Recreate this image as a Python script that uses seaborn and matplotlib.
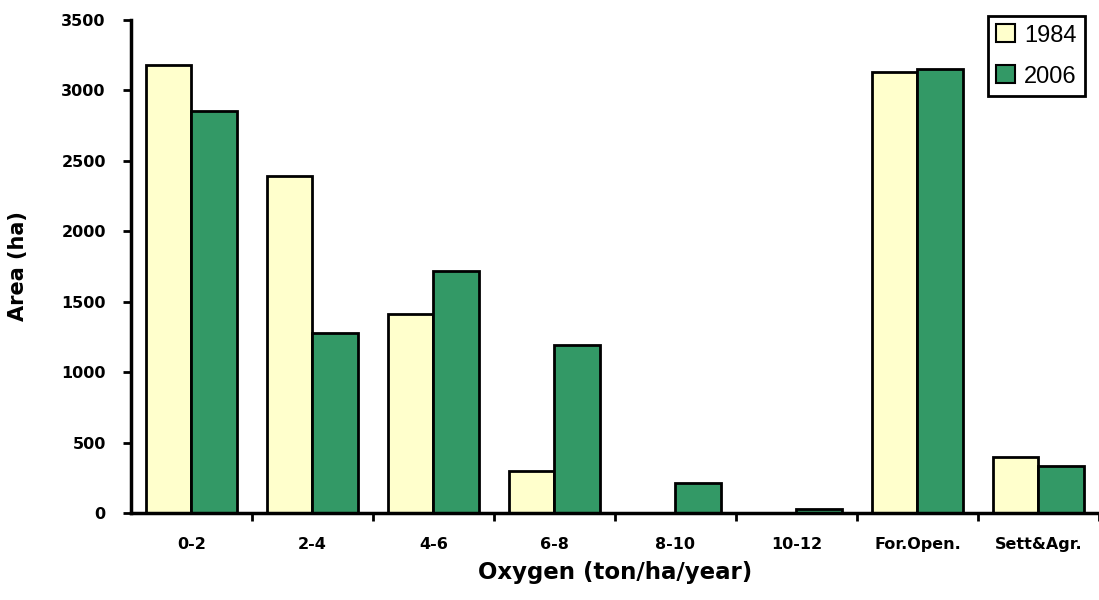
import matplotlib
matplotlib.use("Agg")
import matplotlib.pyplot as plt
import seaborn as sns
import pandas as pd

categories = ["0-2", "2-4", "4-6", "6-8", "8-10", "10-12", "For.Open.", "Sett&Agr."]
years = ["1984", "2006"]
area_1984 = [3180, 2390, 1410, 300, 0, 0, 3130, 400]
area_2006 = [2850, 1280, 1720, 1190, 210, 25, 3150, 335]
y_ticks = [0, 500, 1000, 1500, 2000, 2500, 3000, 3500]

df = pd.DataFrame({
    "category": categories * 2,
    "year": [years[0]] * len(categories) + [years[1]] * len(categories),
    "area": area_1984 + area_2006,
})

sns.set_style("white")
plt.rcParams["font.family"] = ["DejaVu Sans"]
for key in ["text.color", "axes.labelcolor", "xtick.color", "ytick.color"]:
    plt.rcParams[key] = "black"

fig = plt.figure(figsize=(10.99, 6.0), dpi=100)
ax = fig.add_axes([0.119, 0.145, 0.881, 0.822])

palette = {"1984": "#FFFFCC", "2006": "#339966"}
sns.barplot(data=df, x="category", y="area", hue="year", order=categories,
            hue_order=years, palette=palette, width=0.75, saturation=1,
            edgecolor="black", linewidth=2, ax=ax)

ax.set_xlim(-0.5, 7.5)
ax.set_ylim(0, 3500)
ax.set_yticks(y_ticks)
ax.set_yticklabels([str(t) for t in y_ticks], fontweight="bold", fontsize=11.5)

# category labels centred, tick marks between categories
ax.set_xticks(range(len(categories)))
ax.set_xticklabels(categories, fontweight="bold", fontsize=11.5)
ax.set_xticks([i + 0.5 for i in range(len(categories))], minor=True)
ax.tick_params(axis="x", which="both", bottom=True)
ax.tick_params(axis="x", which="major", length=0, pad=17)
ax.tick_params(axis="x", which="minor", length=6, width=2, direction="out")
ax.tick_params(axis="y", which="major", left=True, length=6, width=2,
               direction="out", pad=12)

for side in ["top", "right"]:
    ax.spines[side].set_visible(False)
for side in ["left", "bottom"]:
    ax.spines[side].set_linewidth(2.5)
    ax.spines[side].set_color("black")

ax.set_xlabel("Oxygen (ton/ha/year)", fontsize=16.5, fontweight="bold", labelpad=7)
ax.set_ylabel("Area (ha)", fontsize=15, fontweight="bold", labelpad=24)

handles, labels = ax.get_legend_handles_labels()
leg = ax.legend(handles, labels, loc="upper right", bbox_to_anchor=(0.993, 1.022),
                frameon=True, fancybox=False,
                handlelength=0.8, handleheight=0.8, handletextpad=0.4,
                labelspacing=0.8, borderpad=0.35, borderaxespad=0.3,
                prop={"family": ["Liberation Sans Narrow", "Liberation Sans"], "size": 17})
frame = leg.get_frame()
frame.set_linewidth(2)
frame.set_edgecolor("black")
frame.set_alpha(1)
for h in leg.legend_handles:
    h.set_linewidth(1.5)

fig.savefig("out.png", dpi=100, facecolor="white")
